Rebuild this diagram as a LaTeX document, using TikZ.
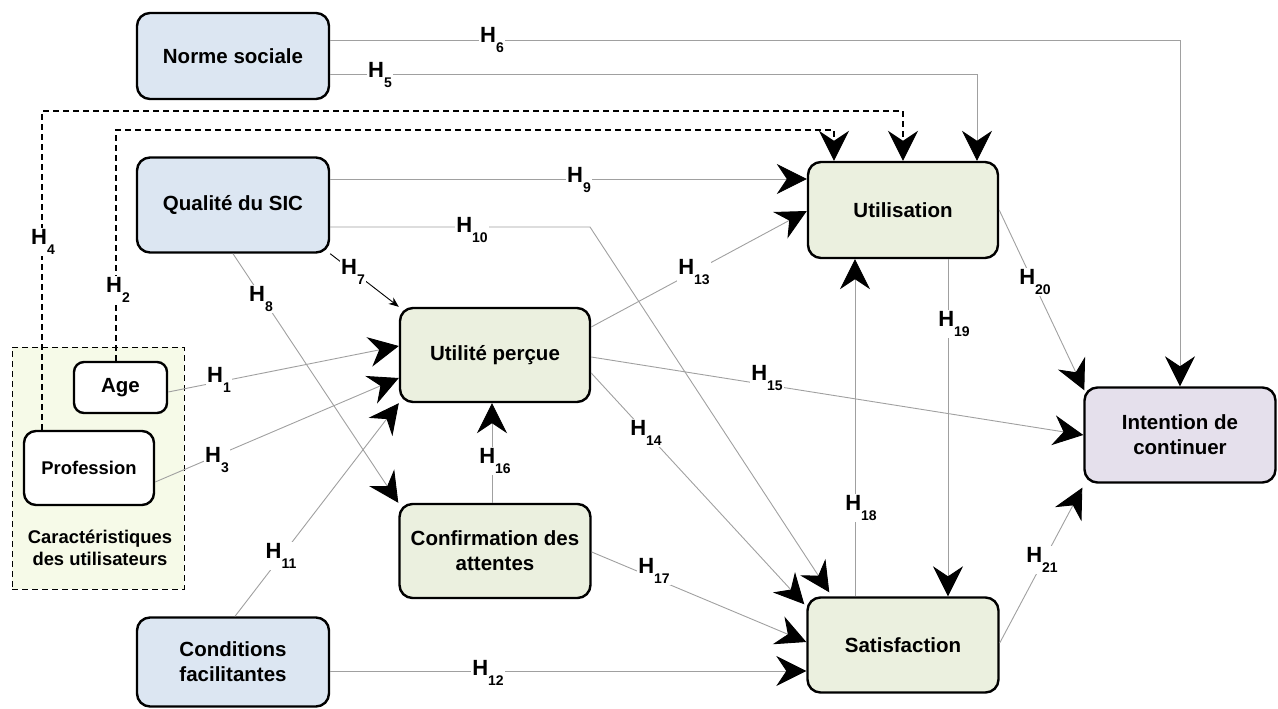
\documentclass[tikz,border=0pt]{standalone}
\usepackage{fontspec}
\setmainfont{Liberation Sans}
\usetikzlibrary{arrows.meta,calc}
\definecolor{bluef}{HTML}{DCE6F2}
\definecolor{greenf}{HTML}{EBF0DF}
\definecolor{lavf}{HTML}{E5E0EC}
\definecolor{regf}{HTML}{F6FAE8}
\definecolor{linegray}{HTML}{A0A0A0}
\newcommand{\hh}[1]{H\raisebox{-10pt}{\fontsize{14}{14}\selectfont #1}}
\tikzset{
  box/.style={draw=black, line width=2.4pt, rounded corners=13pt, align=center,
    font=\bfseries\fontsize{20.5}{25}\selectfont, inner sep=2pt},
  conn/.style={draw=linegray, line width=0.9pt,
    -{Stealth[length=30pt,width=30pt,inset=10pt,color=black]}},
  dconn/.style={draw=black, line width=1.1pt, dash pattern=on 6pt off 4pt,
    -{Stealth[length=30pt,width=30pt,inset=10pt,color=black]}},
  smallconn/.style={draw=black, line width=0.9pt, -{Stealth[length=10pt,width=8pt]}},
  lab/.style={fill=white, inner sep=1.5pt, font=\bfseries\fontsize{22}{22}\selectfont}
}
\begin{document}
\begin{tikzpicture}[x=1pt,y=-1pt]
\useasboundingbox (0,0) rectangle (1278,709);
% region
\node[draw=black, line width=1pt, dash pattern=on 6pt off 4pt, fill=regf,
  minimum width=172pt, minimum height=242pt, inner sep=0pt] (region) at (98,468) {};
\node[font=\bfseries\fontsize{18.4}{22}\selectfont, align=center] (regtxt) at (100,548)
  {Caractéristiques\\des utilisateurs};
% boxes
\node[box, fill=bluef, minimum width=192pt, minimum height=86pt] (norme) at (233,56) {Norme sociale};
\node[box, fill=bluef, minimum width=192pt, minimum height=95pt] (qualite) at (233,205) {Qualité du SIC};
\node[box, fill=bluef, minimum width=192pt, minimum height=89pt] (cond) at (233,662) {Conditions\\facilitantes};
\node[box, fill=greenf, minimum width=190pt, minimum height=94pt] (utilite) at (495,355) {Utilité perçue};
\node[box, fill=greenf, minimum width=191pt, minimum height=94pt] (confirm) at (495,551) {Confirmation des\\attentes};
\node[box, fill=greenf, minimum width=190pt, minimum height=96pt] (utilisation) at (903,210) {Utilisation};
\node[box, fill=greenf, minimum width=191pt, minimum height=95pt] (satis) at (903,645) {Satisfaction};
\node[box, fill=lavf, minimum width=191pt, minimum height=95pt] (intention) at (1180,435) {Intention de\\continuer};
\node[box, fill=white, minimum width=93pt, minimum height=51pt, rounded corners=10pt] (age) at (120.5,387.5) {Age};
\node[box, fill=white, minimum width=130pt, minimum height=74pt, rounded corners=12pt,
  font=\bfseries\fontsize{18.4}{22}\selectfont] (profession) at (89,468) {Profession};
% bend points
\coordinate (b4a) at (42,111);
\coordinate (b2a) at (116,130);
\coordinate (b10) at (590,227);
% connectors
\draw[dconn] (profession.north -| b4a) -- (b4a) -| (utilisation.north);
\draw[dconn] (age.north -| b2a) -- (b2a) -| (utilisation.north -| 834,0);
\draw[conn] (norme.east |- 0,40) -| (intention.north);
\draw[conn] (norme.east |- 0,74) -| (utilisation.north -| 977,0);
\draw[conn] (qualite.east |- 0,179) -- (utilisation.west |- 0,179);
\draw[conn] (qualite.east |- 0,227) -- (b10) -- ($(satis.north west)+(23,-4)$);
\draw[smallconn] (qualite.south east) -- (utilite.north west);
\draw[conn] (qualite.south) -- (confirm.north west);
\draw[conn] (age.east |- 0,392) -- (utilite.west |- 0,346);
\draw[conn] (profession.east |- 0,482) -- (utilite.west |- 0,378);
\draw[conn] (cond.north -| 235,0) -- (utilite.south west);
\draw[conn] (cond.east |- 0,671) -- (satis.west |- 0,671);
\draw[conn] (utilite.east |- 0,327) -- (utilisation.west |- 0,211);
\draw[conn] (utilite.east |- 0,373) -- ($(satis.north west)+(-2,8)$);
\draw[conn] (utilite.east |- 0,357) -- (intention.west);
\draw[conn] (confirm.north -| 492,0) -- (utilite.south -| 492,0);
\draw[conn] (confirm.east |- 0,552) -- (satis.west |- 0,642);
\draw[conn] (satis.north -| 855,0) -- (utilisation.south -| 855,0);
\draw[conn] (utilisation.south -| 948,0) -- (satis.north -| 948,0);
\draw[conn] (utilisation.east |- 0,210) -- ($(intention.north west)+(1,4)$);
\draw[conn] (satis.east |- 0,643) -- ($(intention.south west)+(-1,4)$);
% labels
\node[lab] (l1) at (219,380) {\hh{1}};
\node[lab] (l2) at (118,290) {\hh{2}};
\node[lab] (l3) at (217,460) {\hh{3}};
\node[lab] (l4) at (43,242) {\hh{4}};
\node[lab] (l5) at (380,75) {\hh{5}};
\node[lab] (l6) at (492,40) {\hh{6}};
\node[lab] (l7) at (353,272) {\hh{7}};
\node[lab] (l8) at (261,299) {\hh{8}};
\node[lab] (l9) at (579,180) {\hh{9}};
\node[lab] (l10) at (472,230) {\hh{10}};
\node[lab] (l11) at (281,556) {\hh{11}};
\node[lab] (l12) at (488,673) {\hh{12}};
\node[lab] (l13) at (694,272) {\hh{13}};
\node[lab] (l14) at (646,433) {\hh{14}};
\node[lab] (l15) at (767,378) {\hh{15}};
\node[lab] (l16) at (495,461) {\hh{16}};
\node[lab] (l17) at (654,571) {\hh{17}};
\node[lab] (l18) at (861,508) {\hh{18}};
\node[lab] (l19) at (954,324) {\hh{19}};
\node[lab] (l20) at (1035,282) {\hh{20}};
\node[lab] (l21) at (1042,560) {\hh{21}};
\end{tikzpicture}
\end{document}
